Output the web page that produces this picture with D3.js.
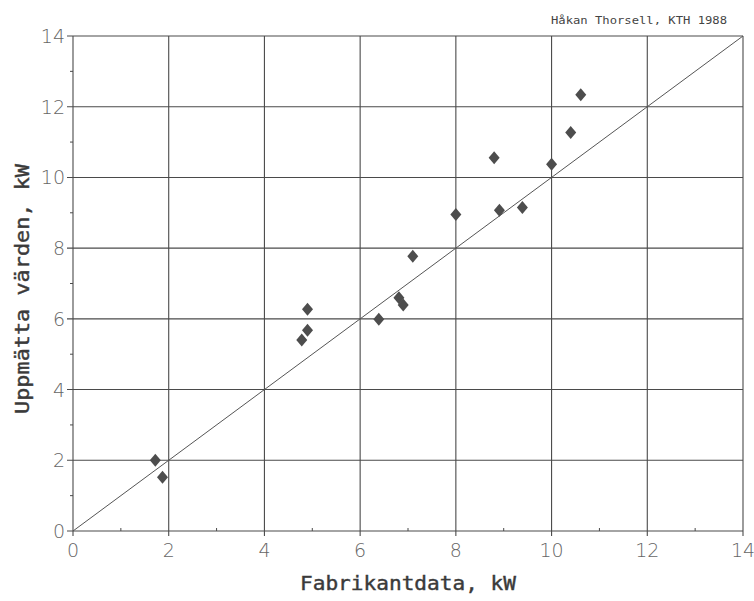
<!DOCTYPE html>
<html><head><meta charset="utf-8">
<script src="https://cdn.jsdelivr.net/npm/d3@7"></script>
<style>body{margin:0;background:#fff}</style>
</head><body>
<svg id="c" width="754" height="601"></svg>
<script>
const fabrikantdata = [1.72,1.87,4.78,4.9,4.9,6.39,6.81,6.9,7.1,8.0,8.8,8.91,9.39,10.0,10.4,10.61];
const uppmatta     = [2.0,1.52,5.4,5.68,6.27,5.99,6.6,6.39,7.77,8.95,10.56,9.07,9.15,10.37,11.27,12.34];
const xTicks = [0,2,4,6,8,10,12,14];
const yTicks = [0,2,4,6,8,10,12,14];
const minorTicks = [1,3,5,7,9,11,13];
const credit = "Håkan Thorsell, KTH 1988";
const xTitle = "Fabrikantdata, kW";
const yTitle = "Uppmätta värden, kW";

const svg = d3.select("#c");
const m = {l:73, r:743, t:36, b:531};
const x = d3.scaleLinear().domain([0,14]).range([m.l, m.r]);
const y = d3.scaleLinear().domain([0,14]).range([m.b, m.t]);
const gridCol = "#4a4a4a";

// grid
const g = svg.append("g");
g.selectAll(".vx").data(xTicks).join("line")
  .attr("x1", d=>x(d)).attr("x2", d=>x(d)).attr("y1", m.t).attr("y2", m.b+5)
  .attr("stroke", gridCol).attr("stroke-width", 1.1);
g.selectAll(".hy").data(yTicks).join("line")
  .attr("y1", d=>y(d)).attr("y2", d=>y(d)).attr("x1", m.l-6).attr("x2", m.r)
  .attr("stroke", gridCol).attr("stroke-width", 1.1);
// minor ticks
g.selectAll(".mx").data(minorTicks).join("line")
  .attr("x1", d=>x(d)).attr("x2", d=>x(d)).attr("y1", m.b).attr("y2", m.b-3)
  .attr("stroke", gridCol);
g.selectAll(".my").data(minorTicks).join("line")
  .attr("y1", d=>y(d)).attr("y2", d=>y(d)).attr("x1", m.l).attr("x2", m.l-3)
  .attr("stroke", gridCol);

// identity line
svg.append("line").attr("x1", x(0)).attr("y1", y(0)).attr("x2", x(14)).attr("y2", y(14))
  .attr("stroke", "#555").attr("stroke-width", 1);

// tick labels
const tf = "'DejaVu Sans', sans-serif";
svg.selectAll(".xl").data(xTicks).join("text")
  .attr("x", d=>x(d)).attr("y", 557).attr("text-anchor","middle")
  .attr("font-family", tf).attr("font-weight", 200).attr("font-size", 19)
  .attr("fill", "#666").text(d=>d);
svg.selectAll(".yl").data(yTicks).join("text")
  .attr("x", m.l-8).attr("y", d=>y(d)+7).attr("text-anchor","end")
  .attr("font-family", tf).attr("font-weight", 200).attr("font-size", 19)
  .attr("fill", "#666").text(d=>d);

// points (diamonds)
const diamond = "M0,-6.5L5.5,0L0,6.5L-5.5,0Z";
svg.selectAll(".pt").data(fabrikantdata.map((v,i)=>[v,uppmatta[i]])).join("path")
  .attr("d", diamond)
  .attr("transform", d=>`translate(${x(d[0])},${y(d[1])})`)
  .attr("fill", "#4d4d4d");

// titles
const mono = "'DejaVu Sans Mono', monospace";
svg.append("text").attr("x", 408).attr("y", 590).attr("text-anchor","middle")
  .attr("font-family", mono).attr("font-size", 19).attr("fill", "#3a3a3a")
  .attr("stroke", "#3a3a3a").attr("stroke-width", 0.4)
  .attr("textLength", 216).attr("lengthAdjust","spacingAndGlyphs").text(xTitle);
svg.append("text").attr("transform", "translate(29,289) rotate(-90)").attr("text-anchor","middle")
  .attr("font-family", mono).attr("font-size", 19).attr("fill", "#3a3a3a")
  .attr("stroke", "#3a3a3a").attr("stroke-width", 0.4)
  .attr("textLength", 250).attr("lengthAdjust","spacingAndGlyphs").text(yTitle);
svg.append("text").attr("x", 727).attr("y", 24).attr("text-anchor","end")
  .attr("font-family", mono).attr("font-size", 11).attr("fill", "#444")
  .attr("textLength", 176).attr("lengthAdjust","spacingAndGlyphs").text(credit);
</script>
</body></html>
